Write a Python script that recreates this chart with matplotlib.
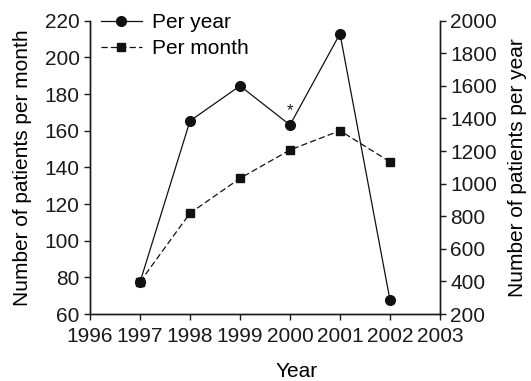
import matplotlib
matplotlib.use("Agg")
import matplotlib.pyplot as plt

years = [1997, 1998, 1999, 2000, 2001, 2002]
per_year = [395, 1385, 1600, 1360, 1920, 285]      # right axis
per_month = [77.5, 115, 134, 149.5, 160, 143]      # left axis

plt.rcParams['font.family'] = ['Liberation Sans', 'DejaVu Sans']
plt.rcParams['font.size'] = 15

fig = plt.figure(figsize=(5.31, 3.81), dpi=100)
ax = fig.add_axes([90/531, 1 - 314/381, 350/531, 293.3/381])
ax2 = ax.twinx()

l_month, = ax.plot(years, per_month, color='#111111', lw=0.9, ls=(0, (5, 2.5)),
                   marker='s', ms=6, label='Per month')
l_year, = ax2.plot(years, per_year, color='#111111', lw=0.9, ls='-',
                   marker='o', ms=7, label='Per year')

ax.set_xlim(1996, 2003)
ax.set_ylim(60, 220)
ax2.set_ylim(200, 2000)
ax.set_xticks(range(1996, 2004))
ax.set_yticks(range(60, 221, 20))
ax2.set_yticks(range(200, 2001, 200))

for a in (ax, ax2):
    a.spines['top'].set_visible(False)
    for s in a.spines.values():
        s.set_linewidth(1.0)
        s.set_color('#1a1a1a')
    a.tick_params(direction='out', length=4.5, width=1, colors='#1a1a1a', pad=3)
ax.tick_params(axis='x', pad=5)

# asterisk above 2000
ax.text(2000, 171, '*', ha='center', va='center', fontsize=12, color='#1a1a1a')

ax.set_ylabel('Number of patients per month')
ax.yaxis.set_label_coords(-0.166, 0.5)
ax2.set_ylabel('Number of patients per year')
ax2.yaxis.set_label_coords(1.194, 0.5)
ax.set_xlabel('Year')
ax.xaxis.set_label_coords(0.59, -0.165)

leg = ax2.legend([l_year, l_month], ['Per year', 'Per month'], loc='upper left',
                 bbox_to_anchor=(0.02, 1.04), frameon=False, borderaxespad=0,
                 handlelength=1.95, handletextpad=0.5, labelspacing=0.35,
                 borderpad=0.2)

fig.savefig('out.png', dpi=100)
